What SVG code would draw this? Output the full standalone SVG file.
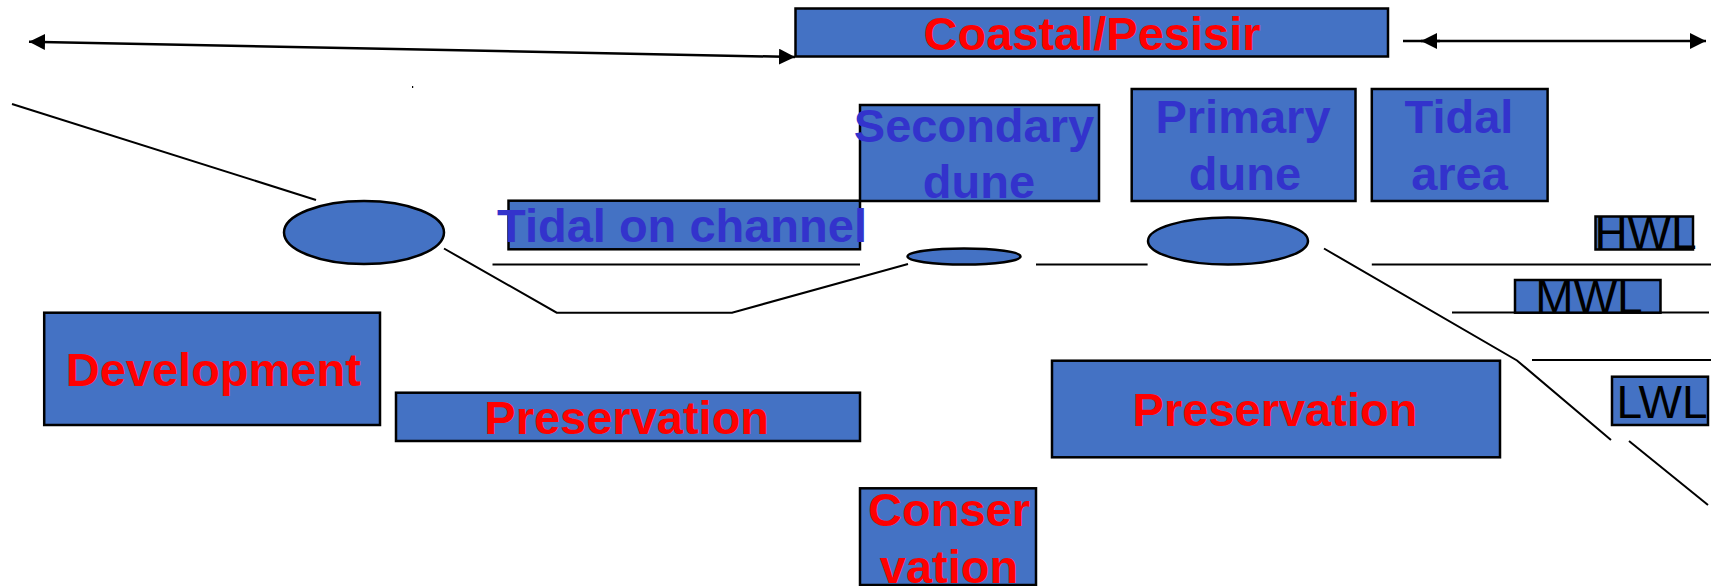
<svg xmlns="http://www.w3.org/2000/svg" width="1711" height="586" viewBox="0 0 1711 586">
<style>
.box{fill:#4472C4;stroke:#000;stroke-width:2.5}
.ln{fill:none;stroke:#000;stroke-width:2}
.ar{fill:none;stroke:#000;stroke-width:2.5}
.r{font-family:"Liberation Sans",Arial,sans-serif;font-weight:bold;font-size:47px;fill:#FF0000;text-anchor:middle}
.b{font-family:"Liberation Sans",Arial,sans-serif;font-weight:bold;font-size:47px;fill:#3333CC;text-anchor:middle}
.k{font-family:"Liberation Sans",Arial,sans-serif;font-size:46px;fill:#000;text-anchor:middle}
</style>
<defs>
<marker id="ah" viewBox="0 0 16 16" refX="16" refY="8" markerWidth="16" markerHeight="16" markerUnits="userSpaceOnUse" orient="auto-start-reverse">
<path d="M0,0 L16,8 L0,16 z" fill="#000"/>
</marker>
</defs>
<rect width="1711" height="586" fill="#fff"/>
<g id="connectors">
<path class="ar" d="M29,41.7 L795,57" marker-start="url(#ah)" marker-end="url(#ah)"/>
<path class="ar" d="M1403,41 L1706,41" marker-end="url(#ah)"/>
<path class="ar" d="M1440,41 L1421,41" marker-end="url(#ah)"/>
<path class="ln" d="M12,104 L316,200"/>
<path class="ln" d="M444,248.5 L556.7,312.7 L732,312.7 L908,264"/>
<path class="ln" d="M492.5,264.5 L860,264.5"/>
<path class="ln" d="M1036,264.5 L1147.6,264.5"/>
<path class="ln" d="M1371.8,264.5 L1711,264.5"/>
<path class="ln" d="M1452,312.5 L1709,312.5"/>
<path class="ln" d="M1532,360 L1711,360"/>
<path class="ln" d="M1324,248.5 L1517,360.5 L1611,440"/>
<path class="ln" d="M1629,441 L1708,505"/>
<rect x="412" y="86" width="1.2" height="2" fill="#000"/>
</g>
<g id="coastal">
<rect class="box" x="795.5" y="8.5" width="592.5" height="48"/>
<text class="r" x="1092" y="50" font-size="48">Coastal/Pesisir</text>
</g>
<g id="ellipse-left">
<ellipse class="box" cx="364" cy="232.5" rx="80" ry="31.5"/>
</g>
<g id="tidal-channel">
<rect class="box" x="508.5" y="200.7" width="351.5" height="48.6"/>
<text class="b" x="682" y="242.3">Tidal on channel</text>
</g>
<g id="secondary-dune">
<rect class="box" x="860" y="105" width="239" height="96"/>
<text class="b" x="974" y="141.7">Secondary</text>
<text class="b" x="979" y="198.3">dune</text>
</g>
<g id="primary-dune">
<rect class="box" x="1131.7" y="89" width="223.8" height="112"/>
<text class="b" x="1243" y="133.3">Primary</text>
<text class="b" x="1245" y="190">dune</text>
</g>
<g id="tidal-area">
<rect class="box" x="1371.8" y="89" width="175.8" height="112"/>
<text class="b" x="1459" y="133.3">Tidal</text>
<text class="b" x="1459.5" y="190">area</text>
</g>
<g id="ellipse-small">
<ellipse class="box" cx="964" cy="256.5" rx="56.5" ry="8"/>
</g>
<g id="ellipse-right">
<ellipse class="box" cx="1228" cy="241" rx="80" ry="23.5"/>
</g>
<g id="hwl">
<rect class="box" x="1595.5" y="216.5" width="97.5" height="33"/>
<text class="k" x="1645.5" y="249.3">HWL</text>
</g>
<g id="mwl">
<rect class="box" x="1515" y="280" width="145.5" height="32.7"/>
<text class="k" x="1589" y="312.7">MWL</text>
</g>
<g id="lwl">
<rect class="box" x="1612" y="376.7" width="96" height="48.3"/>
<text class="k" x="1662" y="418">LWL</text>
</g>
<g id="development">
<rect class="box" x="44.2" y="312.7" width="335.8" height="112.3"/>
<text class="r" x="213.3" y="386">Development</text>
</g>
<g id="preservation-left">
<rect class="box" x="396" y="392.7" width="464" height="48.3"/>
<text class="r" x="626.7" y="434">Preservation</text>
</g>
<g id="preservation-right">
<rect class="box" x="1052" y="360.7" width="448" height="96.6"/>
<text class="r" x="1275" y="426">Preservation</text>
</g>
<g id="conservation">
<rect class="box" x="860" y="488.3" width="176" height="96.7"/>
<text class="r" x="949" y="525.7">Conser</text>
<text class="r" x="949" y="583">vation</text>
</g>
</svg>
